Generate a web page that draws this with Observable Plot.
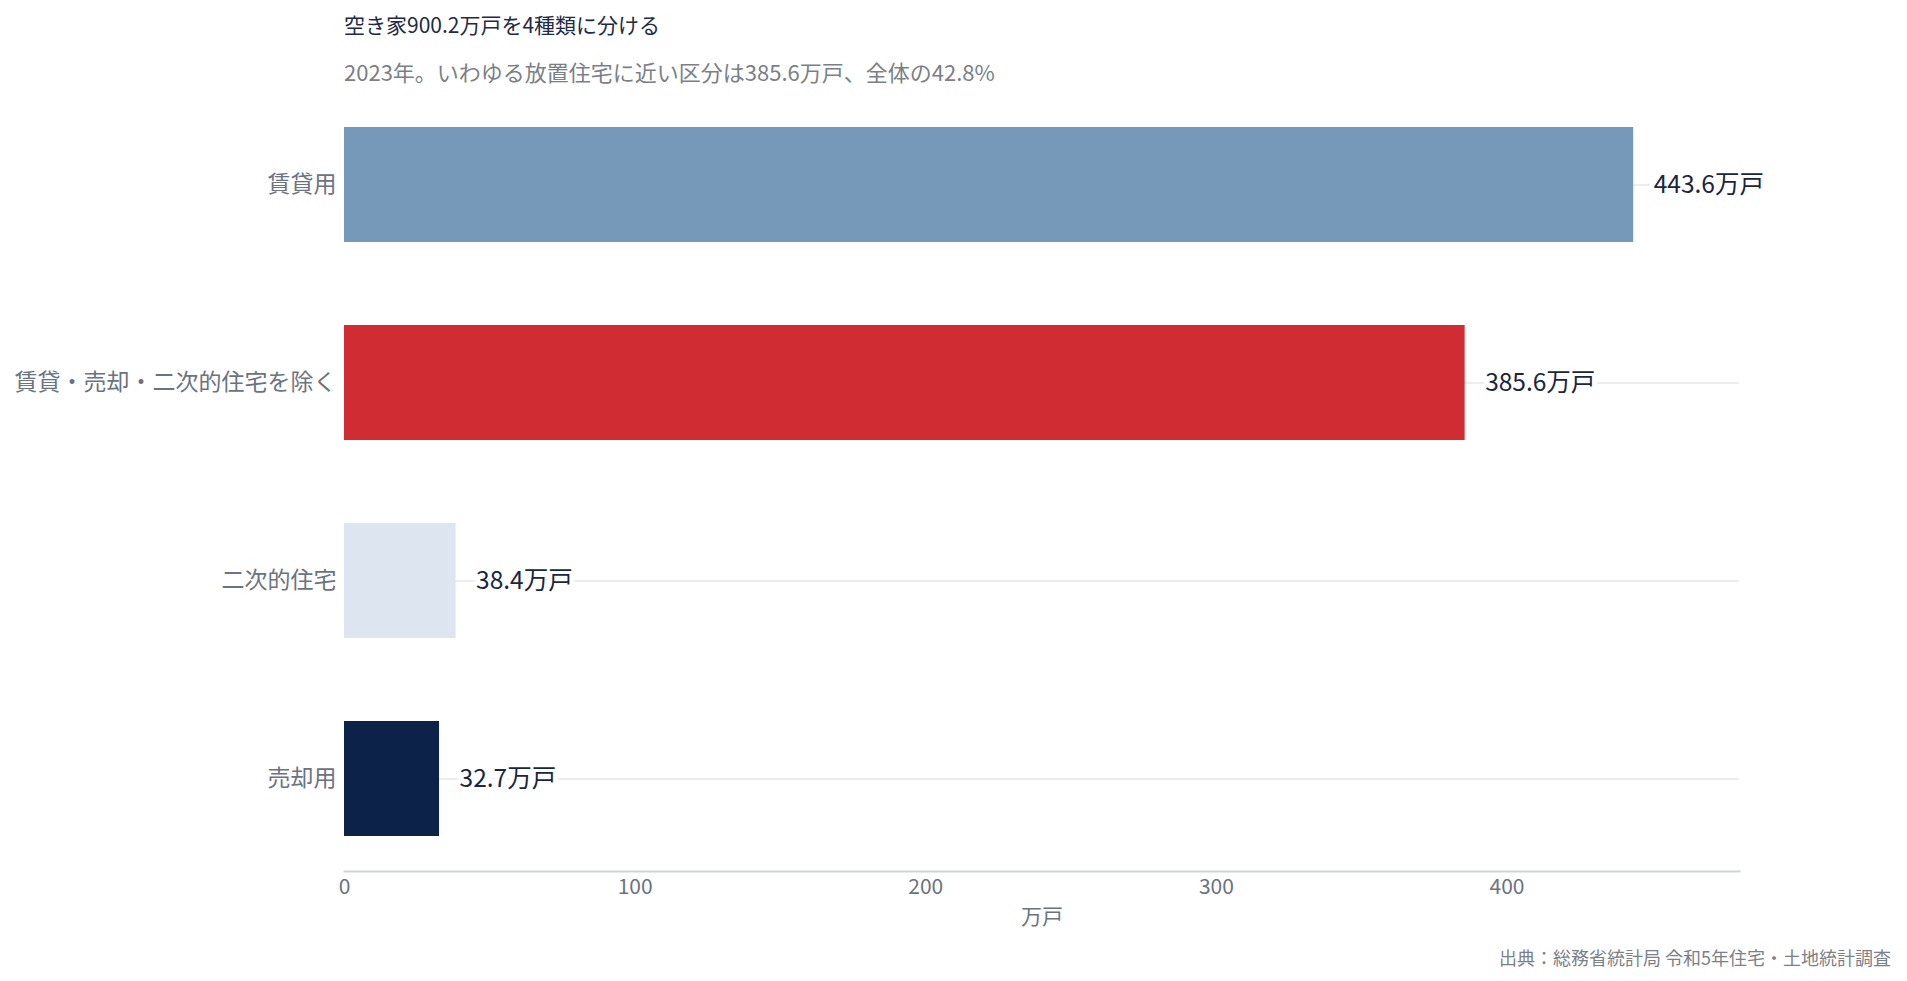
<!DOCTYPE html>
<html>
<head>
<meta charset="utf-8">
<script src="https://cdn.jsdelivr.net/npm/d3@7"></script>
<script src="https://cdn.jsdelivr.net/npm/@observablehq/plot@0.6"></script>
<style>
  html, body { margin: 0; padding: 0; background: #fff; }
  body { width: 1907px; height: 981px; position: relative; overflow: hidden;
         font-family: "Noto Sans CJK JP", "Noto Sans", sans-serif; }
  #title { position: absolute; left: 344px; top: 10px; font-size: 21px; color: #1f2a44; line-height: 28px; white-space: nowrap; }
  #subtitle { position: absolute; left: 344px; top: 57px; font-size: 22px; color: #7a7f88; line-height: 28px; white-space: nowrap; }
  #chart { position: absolute; left: 0; top: 92px; }
  #caption { position: absolute; right: 16px; top: 944px; font-size: 18px; color: #7a7f88; line-height: 26px; white-space: nowrap; }
</style>
</head>
<body>
<div id="title">空き家900.2万戸を4種類に分ける</div>
<div id="subtitle">2023年。いわゆる放置住宅に近い区分は385.6万戸、全体の42.8%</div>
<div id="chart"></div>
<div id="caption">出典：総務省統計局 令和5年住宅・土地統計調査</div>
<script>
const categories = ["賃貸用", "賃貸・売却・二次的住宅を除く", "二次的住宅", "売却用"];
const values = [443.6, 385.6, 38.4, 32.7];
const barColors = ["#7799b9", "#d02c33", "#dde6f0", "#0d2248"];
const valueLabels = ["443.6万戸", "385.6万戸", "38.4万戸", "32.7万戸"];
const xTicks = [0, 100, 200, 300, 400];
const xLabel = "万戸";

const data = categories.map((c, i) => ({category: c, value: values[i], color: barColors[i], label: valueLabels[i]}));

const chart = Plot.plot({
  width: 1907,
  height: 849,
  marginLeft: 344,
  marginRight: 168,
  marginTop: 0,
  marginBottom: 70,
  style: {fontFamily: '"Noto Sans CJK JP", "Noto Sans", sans-serif', background: "#fff"},
  x: {domain: [0, 480], ticks: xTicks},
  y: {domain: categories, paddingInner: 0.42, paddingOuter: 0.17},
  marks: [
    Plot.gridY({stroke: "#e5e7eb", strokeOpacity: 1, strokeWidth: 1.5}),
    Plot.barX(data, {x: "value", y: "category", fill: "color"}),
    Plot.text(data, {x: "value", y: "category", text: "label", textAnchor: "start", dx: 20,
      fontSize: 24.5, fill: "#1a2540", stroke: "white", strokeWidth: 10}),
    Plot.frame({anchor: "bottom", stroke: "#cfd3d9", strokeWidth: 2}),
    Plot.axisY({tickSize: 0, tickPadding: 8, fontSize: 23, color: "#6b7280", label: null}),
    Plot.axisX({ticks: xTicks, tickSize: 0, tickPadding: 8, fontSize: 21, color: "#6b7280",
      label: xLabel, labelAnchor: "center", labelArrow: "none", labelOffset: 52})
  ]
});
document.getElementById("chart").appendChild(chart);
</script>
</body>
</html>
